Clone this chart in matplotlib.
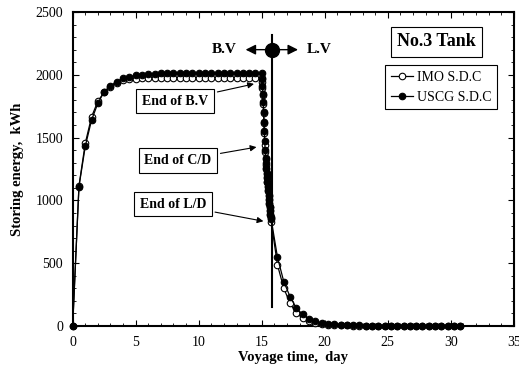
import matplotlib
matplotlib.use('Agg')
import matplotlib.pyplot as plt
from matplotlib.ticker import MultipleLocator

plt.rcParams['font.family'] = ['Liberation Serif', 'DejaVu Serif']

# Ballast voyage (B.V), every half day
time_bv = [0, 0.5, 1.0, 1.5, 2.0, 2.5, 3.0, 3.5, 4.0, 4.5, 5.0, 5.5, 6.0, 6.5, 7.0,
           7.5, 8.0, 8.5, 9.0, 9.5, 10.0, 10.5, 11.0, 11.5, 12.0, 12.5, 13.0, 13.5,
           14.0, 14.5, 15.0]
imo_bv = [0, 1115, 1455, 1665, 1790, 1860, 1905, 1935, 1955, 1965, 1970, 1974, 1976,
          1978, 1978, 1978, 1978, 1978, 1978, 1978, 1978, 1978, 1978, 1978, 1978,
          1978, 1978, 1978, 1978, 1978, 1978]
uscg_bv = [0, 1110, 1430, 1640, 1773, 1866, 1913, 1945, 1972, 1985, 1995, 2000, 2005,
           2008, 2012, 2012, 2012, 2012, 2012, 2012, 2012, 2012, 2012, 2012, 2012,
           2012, 2012, 2012, 2012, 2012, 2012]

# Cargo / loading discharge (C/D, L/D)
time_dis = [15.03, 15.06, 15.09, 15.12, 15.15, 15.18, 15.21, 15.24, 15.27, 15.30,
            15.33, 15.36, 15.39, 15.42, 15.45, 15.48, 15.51, 15.54, 15.57, 15.60,
            15.63, 15.66, 15.69, 15.72, 15.75]
imo_dis = [1945, 1895, 1840, 1770, 1695, 1615, 1540, 1440, 1385, 1330, 1285, 1248,
           1212, 1178, 1143, 1108, 1073, 1038, 1005, 975, 945, 915, 885, 857, 830]
uscg_dis = [1965, 1910, 1850, 1780, 1705, 1625, 1550, 1470, 1400, 1340, 1295, 1255,
            1220, 1185, 1150, 1115, 1080, 1045, 1010, 980, 950, 920, 895, 870, 850]

# Laden voyage (L.V)
time_lv = [16.25, 16.75, 17.25, 17.75, 18.25, 18.75, 19.25, 19.75, 20.25, 20.75,
           21.25, 21.75, 22.25, 22.75, 23.25, 23.75, 24.25, 24.75, 25.25, 25.75,
           26.25, 26.75, 27.25, 27.75, 28.25, 28.75, 29.25, 29.75, 30.25, 30.75]
imo_lv = [486, 300, 181, 101, 62, 38, 24, 15, 10, 7, 5, 4, 3, 2, 2, 1, 1, 1, 1, 1,
          0, 0, 0, 0, 0, 0, 0, 0, 0, 0]
uscg_lv = [547, 353, 233, 141, 93, 56, 37, 25, 17, 12, 9, 7, 5, 4, 3, 3, 2, 2, 2, 1,
           1, 1, 1, 1, 1, 1, 1, 1, 1, 1]

t_switch = 15.8

fig = plt.figure(figsize=(5.19, 3.78), dpi=100)
ax = fig.add_axes([0.140, 0.1376, 0.850, 0.8307])

t_all = time_bv + time_dis + time_lv
ax.plot(t_all, imo_bv + imo_dis + imo_lv, '-o', color='black', mfc='white', mec='black',
        ms=4.7, lw=0.9, mew=0.8, label='IMO S.D.C', clip_on=False, zorder=3)
ax.plot(t_all, uscg_bv + uscg_dis + uscg_lv, '-o', color='black', mfc='black', mec='black',
        ms=4.7, lw=0.9, mew=0.8, label='USCG S.D.C', clip_on=False, zorder=4)

# B.V / L.V separator
ax.plot([t_switch, t_switch], [150, 2320], color='black', lw=1.5, zorder=5)
ax.plot([t_switch], [2200], 'o', color='black', ms=10, zorder=6)
ax.annotate('', xy=(13.5, 2200), xytext=(t_switch, 2200),
            arrowprops=dict(arrowstyle='-|>', color='black', lw=1.0, mutation_scale=15))
ax.annotate('', xy=(18.1, 2200), xytext=(t_switch, 2200),
            arrowprops=dict(arrowstyle='-|>', color='black', lw=1.0, mutation_scale=15))
ax.text(13.0, 2200, 'B.V', ha='right', va='center', fontsize=11, fontweight='bold')
ax.text(18.6, 2200, 'L.V', ha='left', va='center', fontsize=11, fontweight='bold')

box = dict(boxstyle='square,pad=0.42', fc='white', ec='black', lw=0.8)
arrow = dict(arrowstyle='-|>', color='black', lw=0.8, mutation_scale=9)
ax.annotate('End of B.V', xy=(14.6, 1932), xytext=(8.15, 1790), ha='center', va='center',
            fontsize=10, fontweight='bold', bbox=box, arrowprops=arrow)
ax.annotate('End of C/D', xy=(14.8, 1428), xytext=(8.35, 1315), ha='center', va='center',
            fontsize=10, fontweight='bold', bbox=box, arrowprops=arrow)
ax.annotate('End of L/D', xy=(15.35, 830), xytext=(7.95, 970), ha='center', va='center',
            fontsize=10, fontweight='bold', bbox=box, arrowprops=arrow)

ax.text(0.825, 0.905, 'No.3 Tank', transform=ax.transAxes, ha='center', va='center',
        fontsize=13, fontweight='bold',
        bbox=dict(boxstyle='square,pad=0.35', fc='white', ec='black', lw=0.8))

leg = ax.legend(loc='upper left', bbox_to_anchor=(0.708, 0.831), borderaxespad=0,
                fontsize=10, handlelength=1.6, handletextpad=0.3, fancybox=False,
                edgecolor='black', framealpha=1, borderpad=0.4, labelspacing=0.5)
leg.get_frame().set_linewidth(0.8)

ax.set_xlim(0, 35)
ax.set_ylim(0, 2500)
ax.xaxis.set_major_locator(MultipleLocator(5))
ax.xaxis.set_minor_locator(MultipleLocator(1))
ax.yaxis.set_major_locator(MultipleLocator(500))
ax.yaxis.set_minor_locator(MultipleLocator(100))
ax.tick_params(which='both', direction='in', top=True, right=True, labelsize=10)
ax.tick_params(which='major', length=4, pad=7)
ax.tick_params(which='minor', length=2.5)
for s in ax.spines.values():
    s.set_linewidth(1.5)

ax.set_xlabel('Voyage time,  day', fontsize=10.5, fontweight='bold', labelpad=2)
ax.set_ylabel('Storing energy,  kWh', fontsize=10.5, fontweight='bold', labelpad=8)

fig.savefig('out.png', dpi=100)
